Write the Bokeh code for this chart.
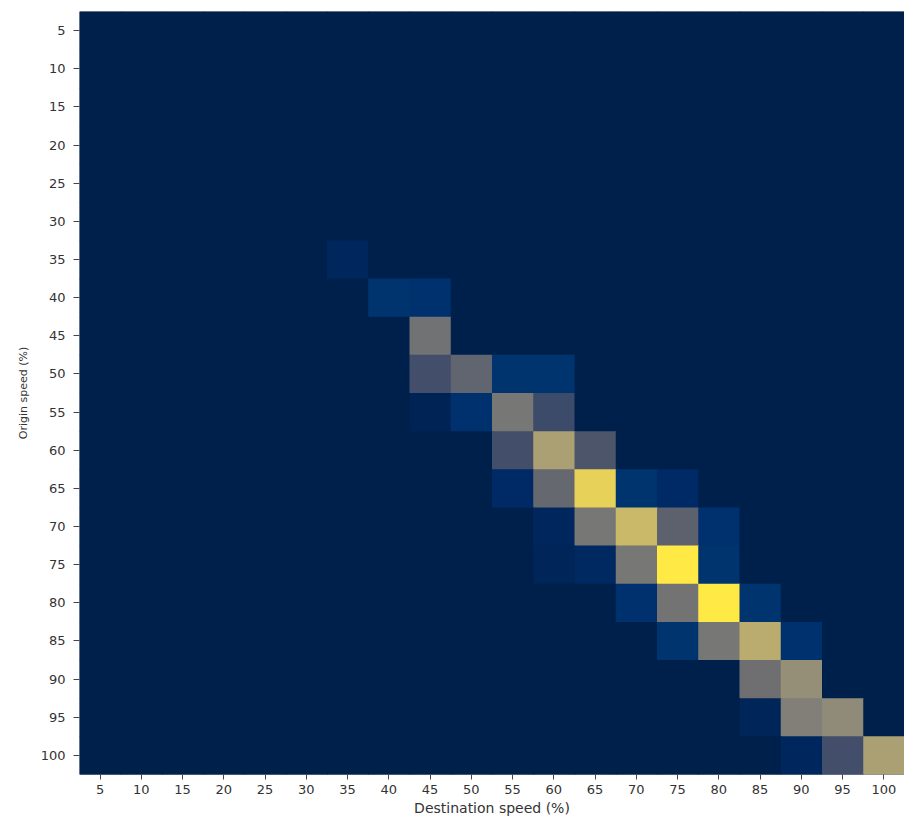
from bokeh.plotting import figure
from bokeh.models import ColumnDataSource, LinearColorMapper
from bokeh.palettes import Cividis256
from bokeh.embed import file_html
from bokeh.resources import INLINE

# Speed bins (%), shared by both axes
speed_bins = ["5", "10", "15", "20", "25", "30", "35", "40", "45", "50",
              "55", "60", "65", "70", "75", "80", "85", "90", "95", "100"]

# Non-empty transitions: origin bin, destination bin, relative share (0..1)
origin = ["35", "40", "40", "45",
          "50", "50", "50", "50",
          "55", "55", "55", "55",
          "60", "60", "60",
          "65", "65", "65", "65", "65",
          "70", "70", "70", "70", "70",
          "75", "75", "75", "75", "75",
          "80", "80", "80", "80",
          "85", "85", "85", "85",
          "90", "90",
          "95", "95", "95",
          "100", "100", "100"]
destination = ["35", "40", "45", "45",
               "45", "50", "55", "60",
               "45", "50", "55", "60",
               "55", "60", "65",
               "55", "60", "65", "70", "75",
               "60", "65", "70", "75", "80",
               "60", "65", "70", "75", "80",
               "70", "75", "80", "85",
               "75", "80", "85", "90",
               "85", "90",
               "85", "90", "95",
               "90", "95", "100"]
share = [0.04, 0.12, 0.10, 0.45,
         0.26, 0.38, 0.12, 0.12,
         0.02, 0.10, 0.48, 0.24,
         0.26, 0.68, 0.30,
         0.06, 0.40, 0.90, 0.12, 0.06,
         0.04, 0.48, 0.80, 0.36, 0.10,
         0.03, 0.05, 0.48, 1.00, 0.12,
         0.10, 0.46, 1.00, 0.12,
         0.12, 0.48, 0.74, 0.10,
         0.44, 0.60,
         0.03, 0.52, 0.58,
         0.04, 0.26, 0.68]

# Fill the full grid: empty cells get zero
lookup = {(o, d): v for o, d, v in zip(origin, destination, share)}
xs, ys, vs = [], [], []
for o in speed_bins:
    for d in speed_bins:
        xs.append(d)
        ys.append(o)
        vs.append(lookup.get((o, d), 0.0))

source = ColumnDataSource(dict(dest=xs, orig=ys, val=vs))
mapper = LinearColorMapper(palette=Cividis256, low=0.0, high=1.0)

p = figure(
    x_range=speed_bins,
    y_range=list(reversed(speed_bins)),
    width=904, height=821,
    min_border_left=79, min_border_right=0,
    min_border_top=11, min_border_bottom=47,
    output_backend="svg", toolbar_location=None,
    background_fill_color=Cividis256[0], border_fill_color="white",
)

p.rect(x="dest", y="orig", width=1.0, height=1.0, source=source,
       fill_color={"field": "val", "transform": mapper},
       line_color=None, dilate=True)

p.outline_line_color = None
p.grid.grid_line_color = None

for ax in (p.xaxis, p.yaxis):
    ax.axis_line_color = None
    ax.major_tick_in = 0
    ax.major_tick_line_color = "#444444"
    ax.major_label_text_font = "DejaVu Sans"
    ax.major_label_text_font_size = "13px"
    ax.major_label_text_color = "#333333"
    ax.axis_label_text_font = "DejaVu Sans"
    ax.axis_label_text_font_style = "normal"
    ax.axis_label_text_color = "#333333"

p.xaxis.major_tick_out = 5
p.yaxis.major_tick_out = 6
p.xaxis.major_label_standoff = 5
p.yaxis.major_label_standoff = 8

p.xaxis.axis_label = "Destination speed (%)"
p.xaxis.axis_label_text_font_size = "14px"
p.xaxis.axis_label_standoff = 3

p.yaxis.axis_label = "Origin speed (%)"
p.yaxis.axis_label_text_font_size = "11px"
p.yaxis.axis_label_standoff = 8

open("out.html", "w").write(file_html(p, INLINE))
